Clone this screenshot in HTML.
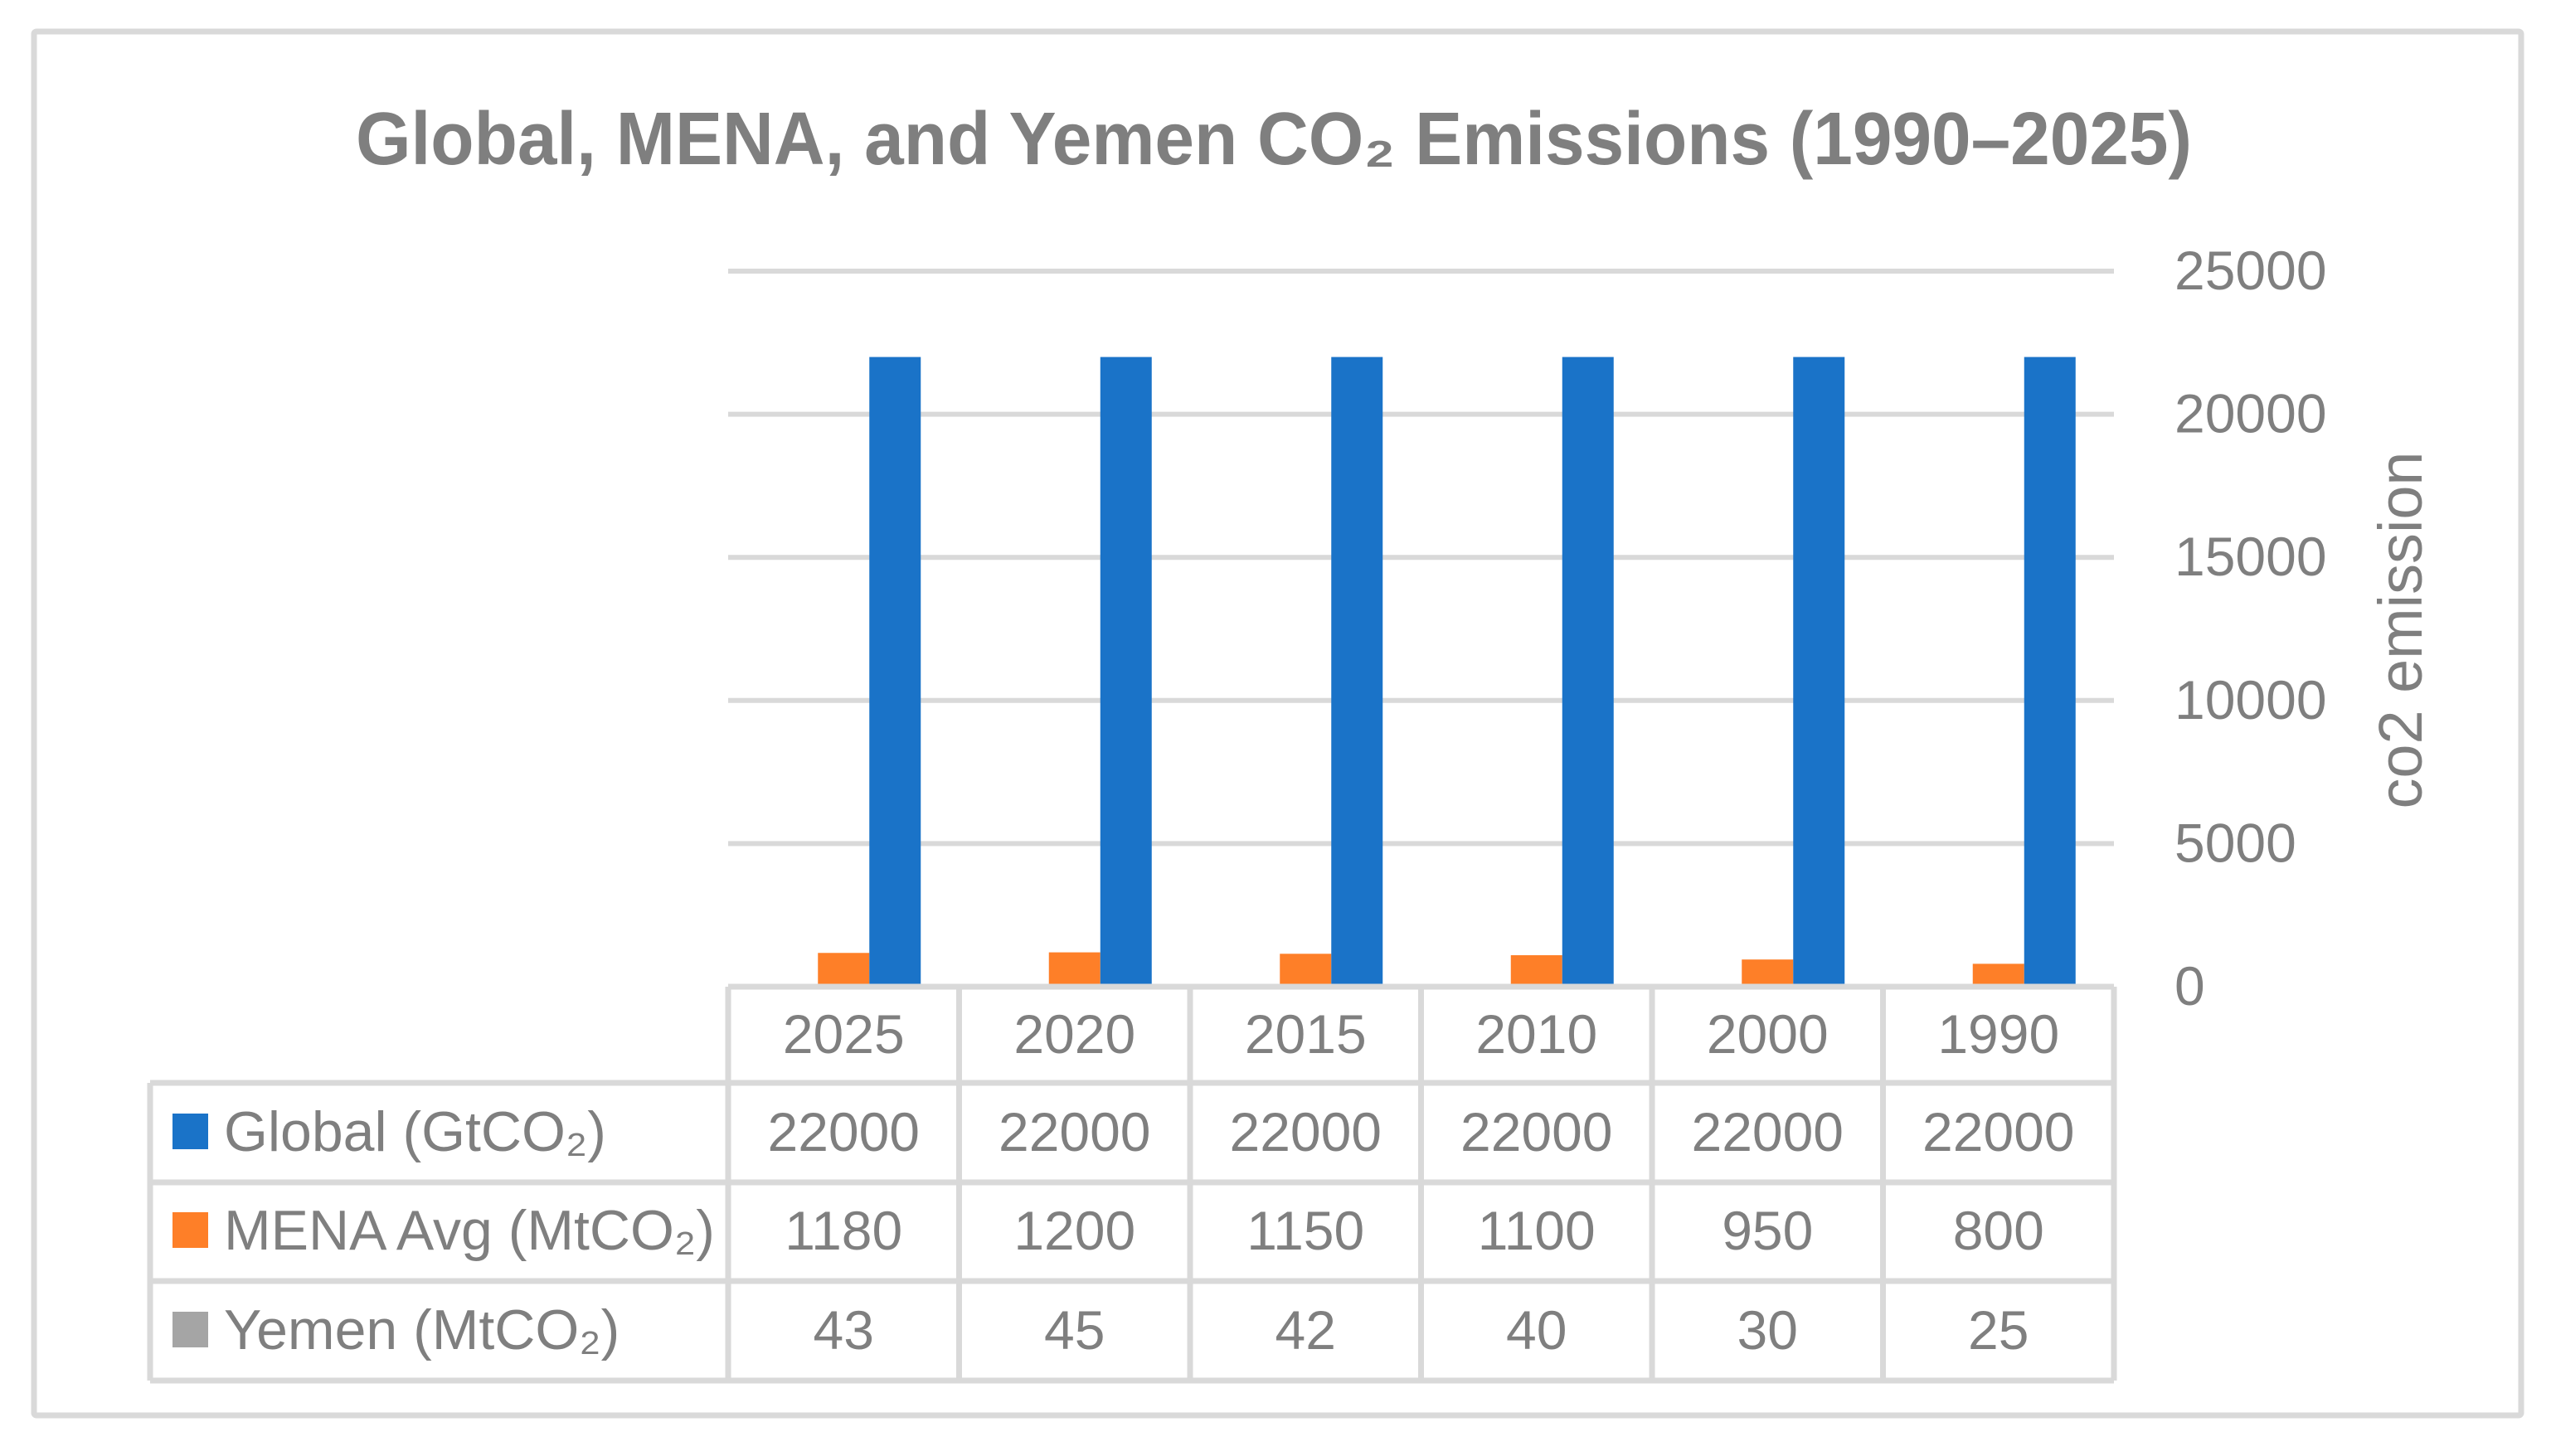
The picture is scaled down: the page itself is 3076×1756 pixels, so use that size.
<!DOCTYPE html>
<html><head><meta charset="utf-8">
<style>
html,body{margin:0;padding:0;background:#fff;}
svg{display:block;}
text{font-family:"Liberation Sans",sans-serif;fill:#7f7f7f;}
</style></head>
<body>
<svg id="chart" width="3076" height="1756" viewBox="0 0 3076 1756" xmlns="http://www.w3.org/2000/svg">
  <rect x="0" y="0" width="3076" height="1756" fill="#fff"/>
  <rect x="41" y="38" width="2999" height="1669" fill="none" stroke="#d9d9d9" stroke-width="7" rx="3"/>
  <text x="1536" y="198" font-size="90" font-weight="bold" text-anchor="middle" textLength="2214" lengthAdjust="spacingAndGlyphs">Global, MENA, and Yemen CO₂ Emissions (1990–2025)</text>
  <text transform="translate(2920,760) rotate(-90)" font-size="74" text-anchor="middle" textLength="431" lengthAdjust="spacingAndGlyphs">co2 emission</text>
  <g id="grid"></g>
  <g id="bars"></g>
  <g id="table"></g>
</svg>
<script>
const categories = ["2025","2020","2015","2010","2000","1990"];
const seriesNames = ["Global (GtCO₂)","MENA Avg (MtCO₂)","Yemen (MtCO₂)"];
const globalValues = [22000,22000,22000,22000,22000,22000];
const menaValues = [1180,1200,1150,1100,950,800];
const yemenValues = [43,45,42,40,30,25];
const yTicks = [0,5000,10000,15000,20000,25000];

const NS = "http://www.w3.org/2000/svg";
const plotLeft = 878, plotRight = 2549, y0 = 1190, yTop = 327, yMax = 25000;
const colW = (plotRight - plotLeft) / categories.length;
const barW = 62;
function yScale(v){ return y0 - (v / yMax) * (y0 - yTop); }
function xCenter(i){ return plotLeft + colW * (i + 0.5); }
function mk(tag, attrs, parent){
  const e = document.createElementNS(NS, tag);
  for (const k in attrs) e.setAttribute(k, attrs[k]);
  parent.appendChild(e);
  return e;
}
const grid = document.getElementById('grid');
const bars = document.getElementById('bars');
const table = document.getElementById('table');

yTicks.forEach(t => {
  const y = yScale(t);
  if (t > 0) {
    const l = mk('line', {x1: plotLeft, x2: plotRight, y1: y, y2: y, stroke: '#d9d9d9', 'stroke-width': 6}, grid);
    
    
  }
  const tx = mk('text', {x: 2622, y: y + 22, 'font-size': 66}, grid);
  tx.textContent = t;
  
  
});

const series = [
  {vals: yemenValues, color: '#a5a5a5', key: 'yemen'},
  {vals: menaValues, color: '#fe7f28', key: 'mena'},
  {vals: globalValues, color: '#1a73c8', key: 'global'}
];
categories.forEach((c, i) => {
  series.forEach((s, j) => {
    const x = xCenter(i) - 1.5 * barW + j * barW;
    const y = yScale(s.vals[i]);
    const r = mk('rect', {x: x, y: y, width: barW, height: y0 - y, fill: s.color}, bars);
    
    
  });
});

const tableLeft = 181;
const rowY = [1190, 1306, 1426, 1545, 1665];
const lineStyle = {stroke: '#d9d9d9', 'stroke-width': 7};
[[plotLeft, rowY[0]], [tableLeft, rowY[1]], [tableLeft, rowY[2]], [tableLeft, rowY[3]], [tableLeft, rowY[4]]].forEach((p, k) => {
  const l = mk('line', Object.assign({x1: p[0], x2: plotRight, y1: p[1], y2: p[1]}, lineStyle), table);
  
  
});
const lLeft = mk('line', Object.assign({x1: tableLeft, x2: tableLeft, y1: rowY[1], y2: rowY[4]}, lineStyle), table);


for (let i = 0; i <= categories.length; i++) {
  const x = plotLeft + colW * i;
  const l = mk('line', Object.assign({x1: x, x2: x, y1: rowY[0], y2: rowY[4]}, lineStyle), table);
  
  
}
categories.forEach((c, i) => {
  const t = mk('text', {x: xCenter(i), y: 1270, 'font-size': 66, 'text-anchor': 'middle'}, table);
  t.textContent = c;
  
  
});
const rowData = [globalValues, menaValues, yemenValues];
const rowColors = ['#1a73c8', '#fe7f28', '#a5a5a5'];
const rowKeys = ['global', 'mena', 'yemen'];
const baselines = [1388, 1507, 1627];
rowData.forEach((vals, r) => {
  const sq = mk('rect', {x: 208, y: baselines[r] - 45, width: 43, height: 43, fill: rowColors[r]}, table);
  
  
  const lab = mk('text', {x: 270, y: baselines[r], 'font-size': 68}, table);
  lab.textContent = seriesNames[r];
  
  
  vals.forEach((v, i) => {
    const t = mk('text', {x: xCenter(i), y: baselines[r], 'font-size': 66, 'text-anchor': 'middle'}, table);
    t.textContent = v;
    
    
  });
});
</script>
</body></html>
